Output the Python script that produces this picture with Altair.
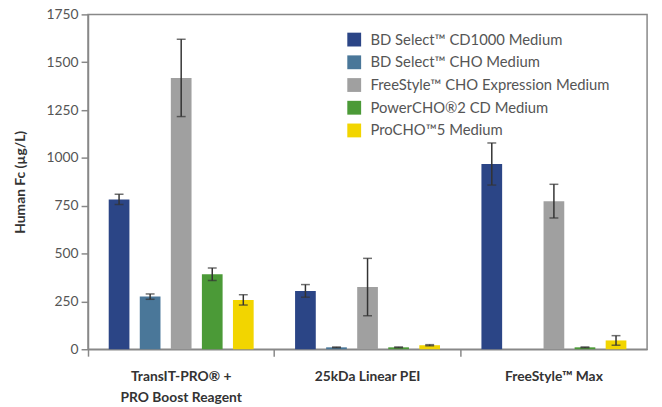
import altair as alt
import pandas as pd

groups = ["TransIT-PRO® +|PRO Boost Reagent", "25kDa Linear PEI", "FreeStyle™ Max"]
series = [
    "BD Select™ CD1000 Medium",
    "BD Select™ CHO Medium",
    "FreeStyle™ CHO Expression Medium",
    "PowerCHO®2 CD Medium",
    "ProCHO™5 Medium",
]
colors = ["#2b4586", "#4a7799", "#a0a0a0", "#4b9a37", "#f2d500"]

# values per series, one entry per group (None = not measured)
cd1000_vals = [783, 305, 968]
cho_vals = [275, 10, None]
freestyle_vals = [1418, 325, 774]
powercho_vals = [392, 10, 10]
procho_vals = [258, 21, 46]

cd1000_err = [27, 33, 110]
cho_err = [14, 2, None]
freestyle_err = [202, 150, 88]
powercho_err = [33, 2, 2]
procho_err = [27, 3, 25]

all_vals = [cd1000_vals, cho_vals, freestyle_vals, powercho_vals, procho_vals]
all_errs = [cd1000_err, cho_err, freestyle_err, powercho_err, procho_err]

rows = []
for s, vals, errs in zip(series, all_vals, all_errs):
    for g, v, e in zip(groups, vals, errs):
        if v is None:
            continue
        rows.append({"group": g, "series": s, "value": v, "lo": v - e, "hi": v + e})
df = pd.DataFrame(rows)

FONT = "Lato"

x_enc = alt.X(
    "group:N",
    sort=groups,
    scale=alt.Scale(domain=groups, paddingInner=0, paddingOuter=0),
    axis=alt.Axis(
        title=None,
        labelExpr="split(datum.label, '|')",
        labelAngle=0,
        labelFont=FONT,
        labelFontWeight="bold",
        labelFontSize=14,
        labelColor="#333333",
        labelPadding=14,
        labelLineHeight=21,
        bandPosition=0,
        tickSize=7,
        tickColor="#888888",
        tickWidth=1.5,
        domainColor="#888888",
        domainWidth=1.5,
    ),
)
xoff_enc = alt.XOffset(
    "series:N",
    sort=series,
    scale=alt.Scale(domain=series, paddingInner=1 / 3, paddingOuter=2 / 3),
)
y_scale = alt.Scale(domain=[0, 1750], nice=False)

bars = alt.Chart(df).mark_bar().encode(
    x=x_enc,
    xOffset=xoff_enc,
    y=alt.Y(
        "value:Q",
        scale=y_scale,
        axis=alt.Axis(
            title="Human Fc (µg/L)",
            values=[0, 250, 500, 750, 1000, 1250, 1500, 1750],
            format="d",
            grid=False,
            labelFont=FONT,
            labelFontSize=14,
            labelColor="#555555",
            labelPadding=3,
            tickSize=7,
            tickColor="#888888",
            tickWidth=1.5,
            domainColor="#888888",
            domainWidth=1.5,
            titleFont=FONT,
            titleFontWeight="bold",
            titleFontSize=14,
            titleColor="#333333",
            titlePadding=19,
        ),
    ),
    color=alt.Color(
        "series:N",
        sort=series,
        scale=alt.Scale(domain=series, range=colors),
        legend=alt.Legend(
            title=None,
            orient="none",
            legendX=262,
            legendY=18,
            symbolType="square",
            symbolSize=196,
            symbolStrokeWidth=0,
            symbolOpacity=1,
            labelFont=FONT,
            labelFontSize=15,
            labelColor="#555555",
            labelOffset=9,
            rowPadding=7,
            labelLimit=400,
        ),
    ),
)

err_rule = alt.Chart(df).mark_rule(color="#333333", strokeWidth=1.5).encode(
    x=x_enc, xOffset=xoff_enc, y=alt.Y("lo:Q", scale=y_scale), y2="hi:Q"
)
cap_hi = alt.Chart(df).mark_tick(color="#333333", size=9, thickness=1.5).encode(
    x=x_enc, xOffset=xoff_enc, y=alt.Y("hi:Q", scale=y_scale)
)
cap_lo = alt.Chart(df).mark_tick(color="#333333", size=9, thickness=1.5).encode(
    x=x_enc, xOffset=xoff_enc, y=alt.Y("lo:Q", scale=y_scale)
)

chart = (
    alt.layer(bars, err_rule, cap_hi, cap_lo)
    .properties(
        width=566,
        height=339,
        autosize=alt.AutoSizeParams(type="none"),
        padding={"left": 81, "top": 4, "right": 7, "bottom": 56},
    )
    .configure_view(stroke="#888888", strokeWidth=1.5)
)

chart.save("out.html", embed_options={"renderer": "svg", "actions": False})
